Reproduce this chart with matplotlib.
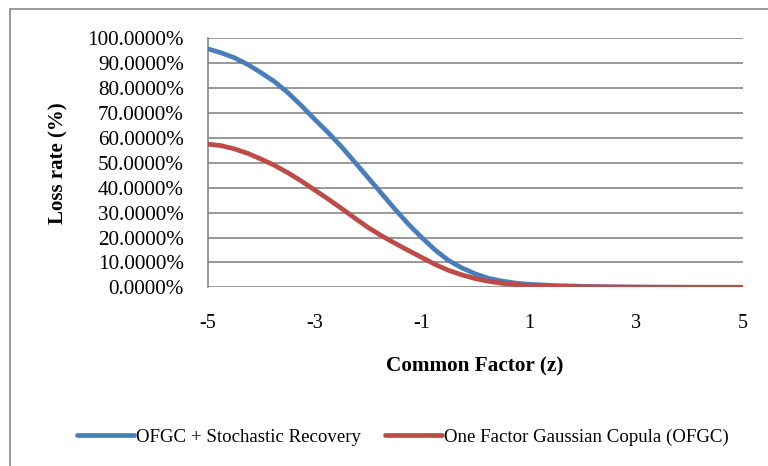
import numpy as np
import matplotlib
matplotlib.use("Agg")
import matplotlib.pyplot as plt
from matplotlib.patches import Rectangle
from matplotlib.ticker import FuncFormatter

# ── Data ──────────────────────────────────────────────────────────────────────

Z = [-5.0, -4.75, -4.5, -4.25, -4.0, -3.75, -3.5, -3.25, -3.0, -2.75,
     -2.5, -2.25, -2.0, -1.75, -1.5, -1.25, -1.0, -0.75, -0.5, -0.25,
     0.0, 0.25, 0.5, 0.75, 1.0, 1.5, 2.0, 2.5, 3.0, 3.5, 4.0, 4.5, 5.0]

LOSS_STOCH = [0.958, 0.942, 0.922, 0.895, 0.862, 0.826, 0.782, 0.730, 0.675, 0.622,
              0.565, 0.503, 0.440, 0.377, 0.314, 0.254, 0.200, 0.150, 0.108, 0.078,
              0.054, 0.036, 0.025, 0.017, 0.012, 0.007, 0.004, 0.002, 0.001, 0.0005,
              0.0002, 0.0001, 0.0]

LOSS_OFGC = [0.575, 0.569, 0.556, 0.538, 0.515, 0.490, 0.460, 0.427, 0.391, 0.355,
             0.317, 0.278, 0.240, 0.207, 0.177, 0.148, 0.120, 0.092, 0.068, 0.050,
             0.035, 0.024, 0.016, 0.011, 0.008, 0.004, 0.002, 0.001, 0.0005, 0.0002,
             0.0001, 0.0, 0.0]

SERIES_NAMES = ["OFGC + Stochastic Recovery", "One Factor Gaussian Copula (OFGC)"]
X_TICKS = [-5, -3, -1, 1, 3, 5]
Y_TICKS = [i / 10 for i in range(11)]

BLUE = "#4A7EBB"
RED = "#BE4B48"
GRID = "#868686"

plt.rcParams["font.family"] = ["Liberation Serif", "DejaVu Serif"]

# ── Figure ────────────────────────────────────────────────────────────────────

fig = plt.figure(figsize=(7.68, 4.66), dpi=100)
fig.patches.append(Rectangle((10 / 768, -0.05), 1.1, 1 - 9 / 466 + 0.05,
                             transform=fig.transFigure, fill=False,
                             edgecolor=GRID, lw=1.2))

ax = fig.add_axes([207.5 / 768, 1 - 287.3 / 466, 535.5 / 768, 249 / 466])
ax.plot(Z, LOSS_STOCH, color=BLUE, lw=3.4, solid_capstyle="round",
        solid_joinstyle="round", label=SERIES_NAMES[0], zorder=3)
ax.plot(Z, LOSS_OFGC, color=RED, lw=3.4, solid_capstyle="round",
        solid_joinstyle="round", label=SERIES_NAMES[1], zorder=4)

ax.set_xlim(-5, 5)
ax.set_ylim(0, 1.0)
ax.set_yticks(Y_TICKS)
ax.yaxis.set_major_formatter(FuncFormatter(lambda v, p: f"{v * 100:.4f}%"))
ax.set_xticks(X_TICKS)
ax.set_xticklabels([str(t) for t in X_TICKS])
ax.tick_params(axis="both", length=0)
ax.tick_params(axis="x", pad=19, labelsize=14.5)
ax.tick_params(axis="y", pad=17, labelsize=15.2)
ax.grid(axis="y", color=GRID, lw=1.2)
ax.set_axisbelow(True)
for side in ["top", "right", "bottom"]:
    ax.spines[side].set_visible(False)
ax.spines["left"].set_color(GRID)
ax.spines["left"].set_linewidth(1.2)

fig.text(475 / 768, 1 - 366 / 466, "Common Factor (z)", ha="center", va="center",
         fontsize=15.3, fontweight="bold")
fig.text(58 / 768, 1 - 163 / 466, "Loss rate (%)", ha="center", va="center",
         rotation=90, fontsize=15, fontweight="bold")

fig.legend(loc="center", bbox_to_anchor=(403 / 768, 1 - 437 / 466), ncol=2,
           frameon=False, fontsize=13.6, handlelength=3.0, handletextpad=0.1,
           columnspacing=1.3)

fig.savefig("out.png", dpi=100)
